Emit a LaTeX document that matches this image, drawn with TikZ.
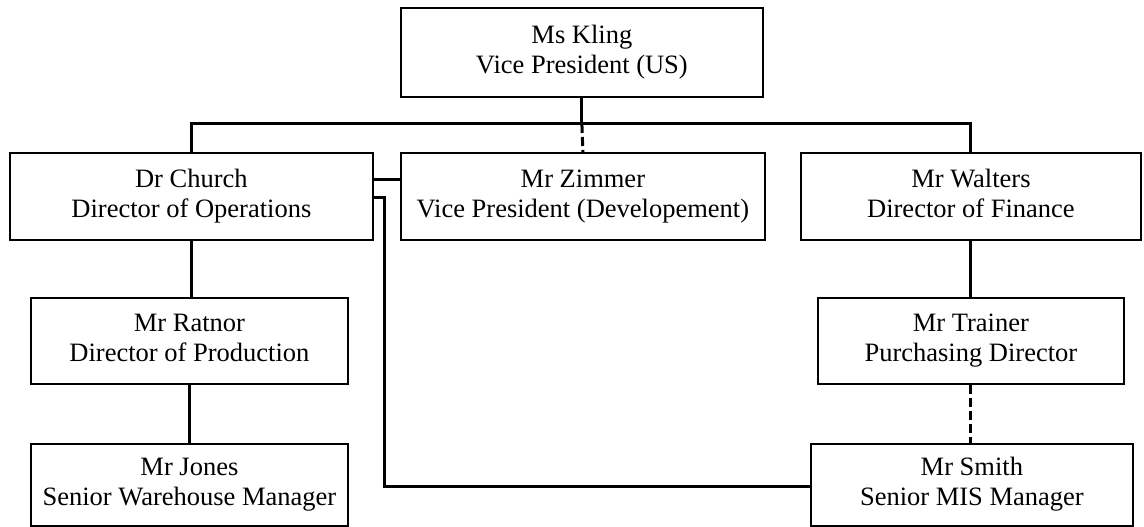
\documentclass[tikz,border=0pt]{standalone}
\usepackage{fontspec}
\setmainfont{Liberation Serif}
\newcommand{\orglines}[2]{\strut #1\\\strut #2}
\begin{document}
\begin{tikzpicture}[x=1pt,y=1pt,
  box/.style={draw=black, line width=1.8pt, fill=white, align=center, inner sep=0pt,
    font=\fontsize{26.5}{30}\selectfont, anchor=north west},
  link/.style={line width=3pt},
  dlink/.style={line width=3pt, dash pattern=on 9pt off 4pt}]
\useasboundingbox (0,0) rectangle (1144,527);
% row 1
\node[box, minimum width=362pt, minimum height=89pt] (kling) at (400,520) {\orglines{Ms Kling}{Vice President (US)}};
% row 2
\node[box, minimum width=363pt, minimum height=87pt] (church) at (9,375) {\orglines{Dr Church}{Director of Operations}};
\node[box, minimum width=364pt, minimum height=87pt] (zimmer) at (400,375) {\orglines{Mr Zimmer}{Vice President (Developement)}};
\node[box, minimum width=340pt, minimum height=87pt] (walters) at (800,375) {\orglines{Mr Walters}{Director of Finance}};
% row 3
\node[box, minimum width=317pt, minimum height=86pt] (ratnor) at (30,230) {\orglines{Mr Ratnor}{Director of Production}};
\node[box, minimum width=306pt, minimum height=86pt] (trainer) at (817,230) {\orglines{Mr Trainer}{Purchasing Director}};
% row 4
\node[box, minimum width=317pt, minimum height=82pt] (jones) at (30,84) {\orglines{Mr Jones}{Senior Warehouse Manager}};
\node[box, minimum width=322pt, minimum height=82pt] (smith) at (810,84) {\orglines{Mr Smith}{Senior MIS Manager}};
% connectors
\coordinate (bus) at (580,403);
\draw[link] (kling.south) -- (kling.south |- bus);
\draw[dlink] (kling.south |- bus) -- (zimmer.north);
\draw[link] (church.north) -- (church.north |- bus) -| (walters.north);
\draw[link] (church.east |- 0,347) -- (zimmer.west |- 0,347);
\coordinate (turn) at (384,329);
\draw[link] (church.east |- turn) -- (turn) -- (turn |- 0,40) -- (smith.west |- 0,40);
\draw[link] (church.south) -- (church.south |- ratnor.north);
\draw[link] (ratnor.south) -- (jones.north);
\draw[link] (walters.south) -- (walters.south |- trainer.north);
\draw[dlink] (trainer.south) -- (trainer.south |- smith.north);
\end{tikzpicture}
\end{document}
